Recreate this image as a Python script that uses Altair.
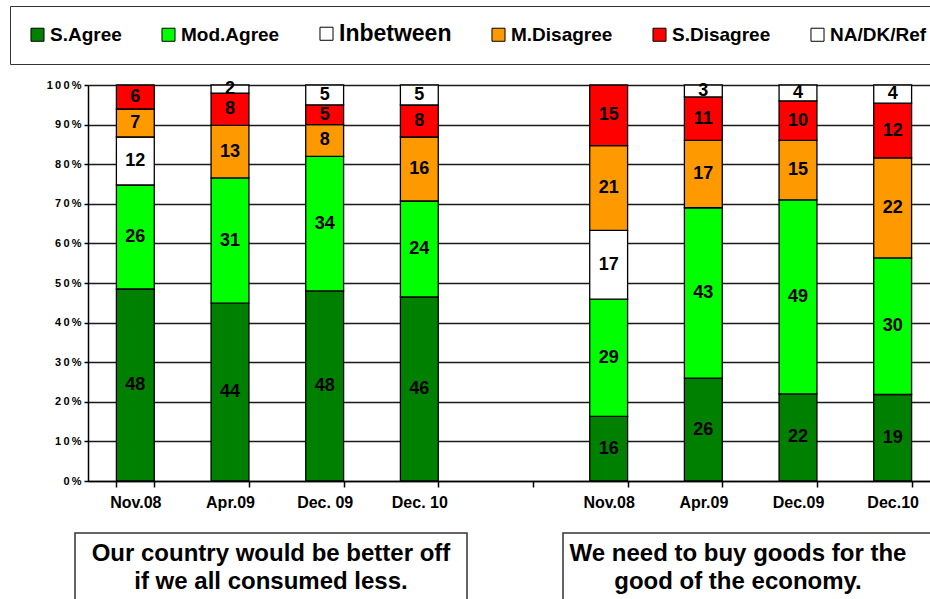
import altair as alt
import pandas as pd

# ---- data ----
slot_labels = ["Nov.08", "Apr.09", "Dec. 09", "Dec. 10", "", "Nov.08", "Apr.09", "Dec.09", "Dec.10"]
responses = ["S.Agree", "Mod.Agree", "Inbetween", "M.Disagree", "S.Disagree", "NA/DK/Ref"]
colors = ["#008000", "#00FF00", "#FFFFFF", "#FF9900", "#FF0000", "#FFFFFF"]
y_ticks = [0.0, 0.1, 0.2, 0.3, 0.4, 0.5, 0.6, 0.7, 0.8, 0.9, 1.0]

s_agree    = [48, 44, 48, 46, 0, 16, 26, 22, 19]
mod_agree  = [26, 31, 34, 24, 0, 29, 43, 49, 30]
inbetween  = [12,  0,  0,  0, 0, 17,  0,  0,  0]
m_disagree = [ 7, 13,  8, 16, 0, 21, 17, 15, 22]
s_disagree = [ 6,  8,  5,  8, 0, 15, 11, 10, 12]
na_dk_ref  = [ 0,  2,  5,  5, 0,  0,  3,  4,  4]

subtitle_left = "Our country would be better off\nif we all consumed less."
subtitle_right = "We need to buy goods for the\ngood of the economy."

series = [s_agree, mod_agree, inbetween, m_disagree, s_disagree, na_dk_ref]
rows = []
for rank, (resp, vals) in enumerate(zip(responses, series)):
    for slot, v in enumerate(vals):
        rows.append({"slot": slot, "response": resp, "rank": rank, "value": v})
df = pd.DataFrame(rows)

FONT = "Liberation Sans"
label_expr = "[" + ",".join("'" + s + "'" for s in slot_labels) + "][datum.value]"

xscale = alt.Scale(domain=list(range(len(slot_labels))), range=[0, 852],
                   paddingInner=0.6, paddingOuter=0.3)
yscale = alt.Scale(domain=[0, 1], nice=False)

yaxis = alt.Axis(values=y_ticks, tickCount=20,
                 labelExpr="join(split(format(datum.value, '.0%'), ''), '\u2009')",
                 labelFont=FONT, labelFontSize=11, labelFontWeight="bold",
                 labelColor="black", tickSize=4, labelPadding=3,
                 labelOverlap=False, labelFlush=False,
                 domainColor="black", domainWidth=1.5, tickColor="black",
                 tickWidth=1.5, grid=True, gridColor="#1a1a1a", gridWidth=1.4)

base = alt.Chart(df).transform_filter("datum.value > 0").transform_stack(
    stack="value", groupby=["slot"], as_=["y0", "y1"], offset="normalize",
    sort=[alt.SortField("rank", order="ascending")],
)

bars = base.mark_bar(stroke="black", strokeWidth=1.3).encode(
    x=alt.X("slot:O", scale=xscale, title=None,
            axis=alt.Axis(labelExpr=label_expr, labelAngle=0, tickBand="extent",
                          tickSize=6, labelPadding=7, labelFont=FONT, labelFontSize=16,
                          labelFontWeight="bold", labelColor="black", domainColor="black",
                          domainWidth=1.5, tickColor="black", tickWidth=1.5, grid=False)),
    y=alt.Y("y0:Q", scale=yscale, title=None, axis=yaxis),
    y2="y1:Q",
    color=alt.Color("response:N", scale=alt.Scale(domain=responses, range=colors),
                    legend=alt.Legend(
                        title=None, orient="none", legendX=-78, legendY=-79,
                        direction="horizontal", columns=6, columnPadding=37,
                        symbolType="square", symbolSize=170, symbolStrokeColor="black",
                        symbolStrokeWidth=1, labelOffset=3, labelFont=FONT,
                        labelFontSize={"expr": "datum.label == 'Inbetween' ? 23 : 19"},
                        labelFontWeight="bold", labelColor="black", labelLimit=300,
                        padding=18, strokeColor="#333333", fillColor="white")),
    order=alt.Order("rank:Q", sort="ascending"),
)

labels = base.transform_calculate(mid="(datum.y0 + datum.y1) / 2").mark_text(
    font=FONT, fontSize=18, fontWeight="bold", color="black", baseline="middle",
    align="center",
).encode(
    x=alt.X("slot:O", scale=xscale),
    y=alt.Y("mid:Q", scale=yscale, axis=yaxis),
    text=alt.Text("value:Q"),
)

sub_df = pd.DataFrame({"txt": [subtitle_left, subtitle_right]})

box_left = alt.Chart(sub_df.iloc[[0]]).mark_rect(
    fill="white", stroke="#333333", strokeWidth=1.5
).encode(x=alt.value(-13), x2=alt.value(379), y=alt.value(448), y2=alt.value(530))

box_right = alt.Chart(sub_df.iloc[[1]]).mark_rect(
    fill="white", stroke="#333333", strokeWidth=1.5
).encode(x=alt.value(475), x2=alt.value(860), y=alt.value(448), y2=alt.value(530))

txt_left = alt.Chart(sub_df.iloc[[0]]).mark_text(
    font=FONT, fontSize=24, fontWeight="bold", color="black", align="center",
    lineBreak="\n", lineHeight=28,
).encode(x=alt.value(183), y=alt.value(469), text="txt:N")

txt_right = alt.Chart(sub_df.iloc[[1]]).mark_text(
    font=FONT, fontSize=24, fontWeight="bold", color="black", align="center",
    lineBreak="\n", lineHeight=28,
).encode(x=alt.value(650), y=alt.value(469), text="txt:N")

chart = alt.layer(bars, labels, box_left, box_right, txt_left, txt_right).properties(
    width=842, height=396,
    autosize=alt.AutoSizeParams(type="none"),
    padding={"left": 88, "top": 85, "right": 0, "bottom": 118},
    background="white",
).configure_view(strokeWidth=0)

chart.save("out.html", embed_options={"renderer": "svg", "actions": False})
